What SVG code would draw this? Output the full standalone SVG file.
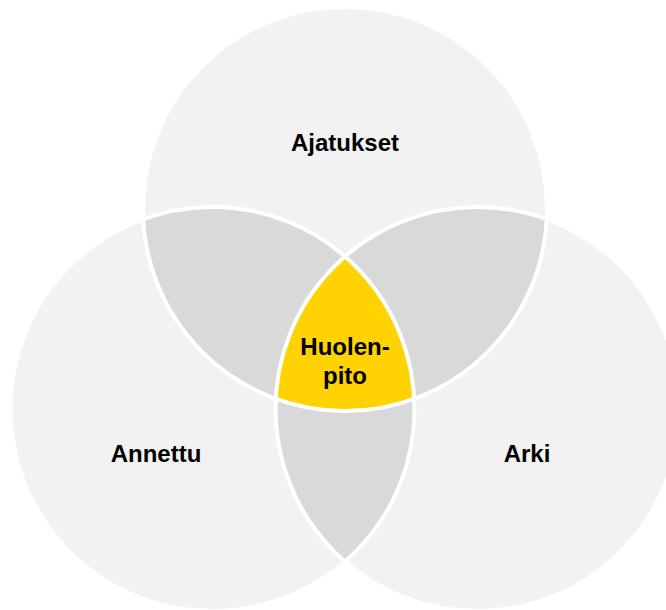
<svg xmlns="http://www.w3.org/2000/svg" width="666" height="610" viewBox="0 0 666 610">
<style>
.base{fill:#f2f2f2}
.lens{fill:#d9d9d9}
.core{fill:#ffd200}
.edge{fill:none;stroke:#ffffff;stroke-width:4}
.lbl{font-family:"Liberation Sans",Arial,sans-serif;font-weight:bold;font-size:24px;fill:#000;text-anchor:middle}
</style>
<defs>
<clipPath id="cTop"><circle cx="345" cy="209" r="202"/></clipPath>
<clipPath id="cLeft"><circle cx="212.5" cy="409" r="202"/></clipPath>
<clipPath id="cRight"><circle cx="477.5" cy="409" r="202"/></clipPath>
</defs>
<rect width="666" height="610" fill="#ffffff"/>
<g id="ajatukset"><circle class="base" cx="345" cy="209" r="202"/></g>
<g id="annettu"><circle class="base" cx="212.5" cy="409" r="202"/></g>
<g id="arki"><circle class="base" cx="477.5" cy="409" r="202"/></g>
<g id="overlaps">
<g clip-path="url(#cTop)"><circle class="lens" cx="212.5" cy="409" r="202"/><circle class="lens" cx="477.5" cy="409" r="202"/></g>
<g clip-path="url(#cLeft)"><circle class="lens" cx="477.5" cy="409" r="202"/></g>
</g>
<g id="huolenpito"><g clip-path="url(#cTop)"><g clip-path="url(#cLeft)"><circle class="core" cx="477.5" cy="409" r="202"/></g></g></g>
<g id="edges">
<circle class="edge" cx="345" cy="209" r="202"/>
<circle class="edge" cx="212.5" cy="409" r="202"/>
<circle class="edge" cx="477.5" cy="409" r="202"/>
</g>
<g id="labels">
<text class="lbl" x="345" y="151">Ajatukset</text>
<text class="lbl" x="156" y="462">Annettu</text>
<text class="lbl" x="527" y="462">Arki</text>
<text class="lbl" x="345" y="355">Huolen-</text>
<text class="lbl" x="345" y="384">pito</text>
</g>
</svg>
